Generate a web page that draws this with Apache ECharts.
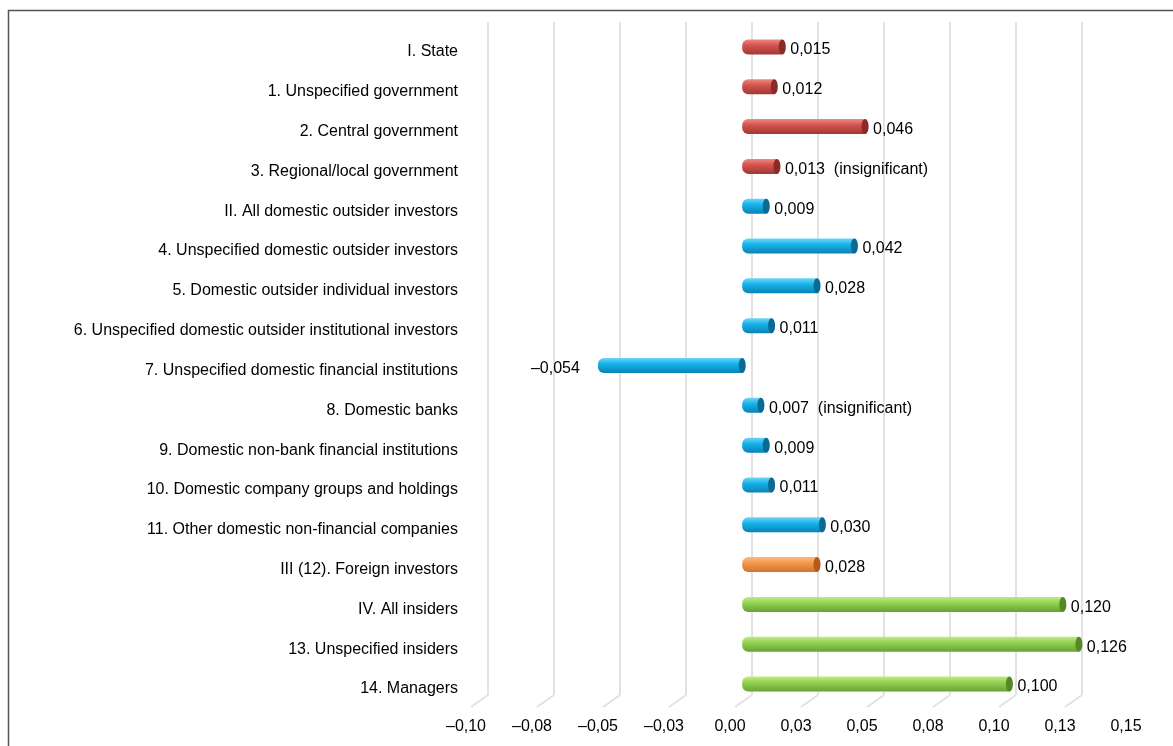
<!DOCTYPE html>
<html>
<head>
<meta charset="utf-8">
<script src="https://cdn.jsdelivr.net/npm/echarts@6/dist/echarts.min.js"></script>
<style>
html,body{margin:0;padding:0;background:#fff;}
#chart{width:1173px;height:746px;}
</style>
</head>
<body>
<div id="chart"></div>
<script>
const categories = [
  'I. State',
  '1. Unspecified government',
  '2. Central government',
  '3. Regional/local government',
  'II. All domestic outsider investors',
  '4. Unspecified domestic outsider investors',
  '5. Domestic outsider individual investors',
  '6. Unspecified domestic outsider institutional investors',
  '7. Unspecified domestic financial institutions',
  '8. Domestic banks',
  '9. Domestic non-bank financial institutions',
  '10. Domestic company groups and holdings',
  '11. Other domestic non-financial companies',
  'III (12). Foreign investors',
  'IV. All insiders',
  '13. Unspecified insiders',
  '14. Managers'
];
const values = [0.015, 0.012, 0.046, 0.013, 0.009, 0.042, 0.028, 0.011, -0.054, 0.007, 0.009, 0.011, 0.030, 0.028, 0.120, 0.126, 0.100];
const groups = ['state','state','state','state','domestic','domestic','domestic','domestic','domestic','domestic','domestic','domestic','domestic','foreign','insider','insider','insider'];
const notes = ['', '', '', '(insignificant)', '', '', '', '', '', '(insignificant)', '', '', '', '', '', '', ''];
const tickLabels = ['\u20130,10','\u20130,08','\u20130,05','\u20130,03','0,00','0,03','0,05','0,08','0,10','0,13','0,15'];
const backWallTicks = [-0.1, -0.075, -0.05, -0.025, 0, 0.025, 0.05, 0.075, 0.1, 0.125];
const X_MIN = -0.1, X_MAX = 0.15, X_STEP = 0.025;

const palette = {
  state:    {top:'#ec8a84', base:'#d4534e', bottom:'#a23733', cap:'#8a2b28'},
  domestic: {top:'#6fd6f7', base:'#16b2ea', bottom:'#0a82b5', cap:'#0a6a94'},
  foreign:  {top:'#fbb97f', base:'#f5964a', bottom:'#d2732b', cap:'#b35b1a'},
  insider:  {top:'#c0eb86', base:'#93d152', bottom:'#67a232', cap:'#548a26'}
};

function fmtVal(v){
  const s = Math.abs(v).toFixed(3).replace('.', ',');
  return (v < 0 ? '\u2013' : '') + s;
}

const FAMILY = '"Liberation Sans", Arial, sans-serif';
const FONT = '16px ' + FAMILY;

const chart = echarts.init(document.getElementById('chart'), null, {renderer:'canvas'});
chart.setOption({
  animation: false,
  backgroundColor: '#ffffff',
  graphic: [{
    type: 'rect', z: -10,
    shape: {x: 8.5, y: 10.5, width: 1200, height: 800},
    style: {fill: 'none', stroke: '#555', lineWidth: 1.5}
  }],
  grid: [
    {left: 466, right: 47, top: 32, bottom: 37},
    {left: 475, right: 30, top: 27, bottom: 42},
    {left: 488, right: 91, top: 22, bottom: 51}
  ],
  xAxis: [
    {gridIndex: 0, type: 'value', min: X_MIN, max: X_MAX, interval: X_STEP,
     axisLine: {show: false}, axisTick: {show: false}, splitLine: {show: false},
     axisLabel: {fontSize: 16, fontFamily: FAMILY, color: '#000', margin: 10,
       formatter: v => tickLabels[Math.round((v - X_MIN) / X_STEP)] }},
    {gridIndex: 1, type: 'value', min: X_MIN, max: X_MAX, show: false},
    {gridIndex: 2, type: 'value', min: -0.1, max: 0.125, interval: X_STEP,
     axisLine: {show: false}, axisTick: {show: false}, axisLabel: {show: false},
     splitLine: {show: true, lineStyle: {color: '#e2e2e2', width: 2}}}
  ],
  yAxis: [
    {gridIndex: 0, type: 'category', data: categories, inverse: true,
     axisLine: {show: false}, axisTick: {show: false}, splitLine: {show: false},
     axisLabel: {fontSize: 16, fontFamily: FAMILY, color: '#000', margin: 8}},
    {gridIndex: 1, type: 'category', data: categories, inverse: true, show: false},
    {gridIndex: 2, type: 'value', min: 0, max: 1, show: false}
  ],
  series: [
    {
      type: 'custom', xAxisIndex: 2, yAxisIndex: 2, silent: true, clip: false, z: 1,
      data: backWallTicks.map(v => [v, 0]),
      encode: {x: 0, y: 1},
      renderItem: function(params, api){
        const p = api.coord([api.value(0), 0]);
        return {type: 'line', shape: {x1: p[0], y1: p[1], x2: p[0] - 17, y2: p[1] + 12},
                style: {stroke: '#e2e2e2', lineWidth: 2}};
      }
    },
    {
      type: 'custom', xAxisIndex: 1, yAxisIndex: 1, clip: false, z: 5,
      data: values.map((v, i) => [v, i]),
      encode: {x: 0, y: 1},
      renderItem: function(params, api){
        const v = api.value(0), i = api.value(1);
        const a = api.coord([0, i]), b = api.coord([v, i]);
        const h = 15, y = a[1];
        const left = Math.min(a[0], b[0]), right = Math.max(a[0], b[0]);
        const pal = palette[groups[i]];
        const grad = new echarts.graphic.LinearGradient(0, 0, 0, 1, [
          {offset: 0, color: pal.top}, {offset: 0.4, color: pal.base}, {offset: 1, color: pal.bottom}
        ]);
        const txt = fmtVal(v) + (notes[i] ? '  ' + notes[i] : '');
        const children = [
          {type: 'rect', shape: {x: left, y: y - h / 2, width: right - left, height: h, r: [6, 0, 0, 6]},
           style: {fill: grad}},
          {type: 'ellipse', shape: {cx: right, cy: y, rx: 3.5, ry: h / 2}, style: {fill: pal.cap}},
          {type: 'text', style: v >= 0
             ? {text: txt, x: right + 8, y: y + 3, align: 'left', verticalAlign: 'middle', fill: '#000', font: FONT}
             : {text: txt, x: left - 18, y: y + 3, align: 'right', verticalAlign: 'middle', fill: '#000', font: FONT}}
        ];
        return {type: 'group', children: children};
      }
    }
  ]
});
</script>
</body>
</html>
